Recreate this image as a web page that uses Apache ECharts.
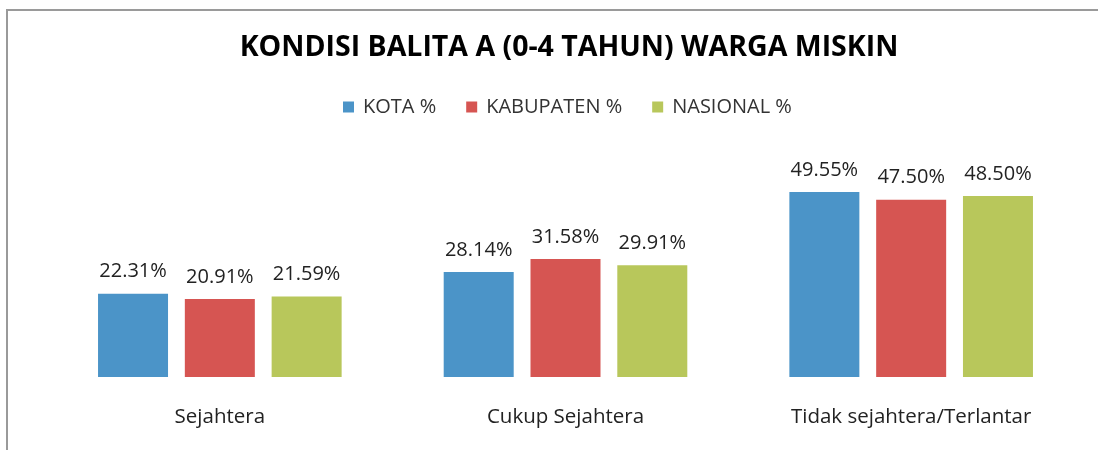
<!DOCTYPE html>
<html>
<head>
<meta charset="utf-8">
<script src="https://cdn.jsdelivr.net/npm/echarts@6/dist/echarts.min.js"></script>
<style>
  html, body { margin: 0; padding: 0; background: #fff; }
  #chart { width: 1098px; height: 450px; }
</style>
</head>
<body>
<div id="chart"></div>
<script>
const categories = ['Sejahtera', 'Cukup Sejahtera', 'Tidak sejahtera/Terlantar']
const seriesNames = ['KOTA %', 'KABUPATEN %', 'NASIONAL %']
const kota = [22.31, 28.14, 49.55]
const kabupaten = [20.91, 31.58, 47.50]
const nasional = [21.59, 29.91, 48.50]
const colors = ['#4B94C8', '#D65552', '#B8C75B']

const font = '"Open Sans", "DejaVu Sans", sans-serif'
const chart = echarts.init(document.getElementById('chart'))

function bar(name, data, color) {
  return {
    name,
    type: 'bar',
    data,
    barWidth: 70,
    barGap: '24%',
    itemStyle: { color },
    label: {
      show: true,
      position: 'top',
      distance: 12,
      formatter: p => p.value.toFixed(2) + '%',
      color: '#222',
      fontFamily: font,
      fontSize: 20
    }
  }
}

chart.setOption({
  backgroundColor: '#fff',
  animation: false,
  graphic: [{
    type: 'rect',
    shape: { x: 7, y: 10, width: 1200, height: 600 },
    style: { fill: 'none', stroke: '#9a9a9a', lineWidth: 2 },
    silent: true
  }],
  title: {
    text: 'KONDISI BALITA A (0-4 TAHUN) WARGA MISKIN',
    left: 564,
    textAlign: 'center',
    top: 28,
    textStyle: { fontFamily: font, fontSize: 28.5, fontWeight: 'bold', color: '#000' }
  },
  legend: {
    top: 92,
    left: 338,
    itemWidth: 11,
    itemHeight: 11,
    itemGap: 30,
    icon: 'rect',
    textStyle: { fontFamily: font, fontSize: 20, color: '#333', padding: [0, 0, 0, 4] },
    data: seriesNames
  },
  grid: { left: 47, right: 14, top: 153, bottom: 73 },
  xAxis: {
    type: 'category',
    data: categories,
    axisLine: { show: false },
    axisTick: { show: false },
    axisLabel: { margin: 30, fontFamily: font, fontSize: 20.5, color: '#222' }
  },
  yAxis: {
    type: 'value',
    min: 0,
    max: 60,
    show: false,
    splitLine: { show: false }
  },
  series: [
    bar(seriesNames[0], kota, colors[0]),
    bar(seriesNames[1], kabupaten, colors[1]),
    bar(seriesNames[2], nasional, colors[2])
  ]
})
</script>
</body>
</html>
